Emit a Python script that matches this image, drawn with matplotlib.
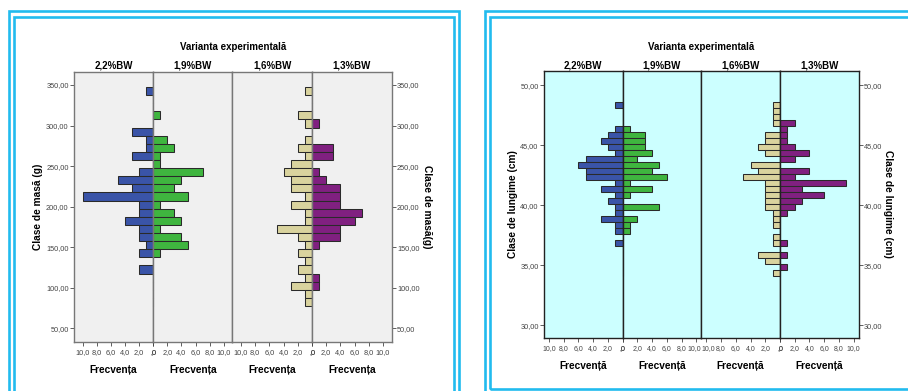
import matplotlib
matplotlib.use("Agg")
import matplotlib.pyplot as plt
import matplotlib.transforms as mtransforms
from matplotlib.patches import Rectangle

plt.rcParams['font.family'] = ['Liberation Sans', 'DejaVu Sans']

W, H = 908, 391

GROUPS = ["2,2%BW", "1,9%BW", "1,6%BW", "1,3%BW"]
COLORS = ["#3A54A8", "#3FB53F", "#D9D39E", "#802080"]

# mass classes (g), bin width 10
mass_classes = [342.5, 332.5, 322.5, 312.5, 302.5, 292.5, 282.5, 272.5, 262.5,
                252.5, 242.5, 232.5, 222.5, 212.5, 202.5, 192.5, 182.5, 172.5,
                162.5, 152.5, 142.5, 132.5, 122.5, 112.5, 102.5, 92.5, 82.5]
mass_22 = [1, 0, 0, 0, 0, 3, 1, 1, 3, 0, 2, 5, 3, 10, 2, 2, 4, 2, 2, 1, 2, 0, 2, 0, 0, 0, 0]
mass_19 = [0, 0, 0, 1, 0, 0, 2, 3, 1, 1, 7, 4, 3, 5, 1, 3, 4, 1, 4, 5, 1, 0, 0, 0, 0, 0, 0]
mass_16 = [1, 0, 0, 2, 1, 0, 1, 2, 1, 3, 4, 3, 3, 1, 3, 1, 1, 5, 2, 1, 2, 1, 2, 1, 3, 1, 1]
mass_13 = [0, 0, 0, 0, 1, 0, 0, 3, 3, 0, 1, 2, 4, 4, 4, 7, 6, 4, 4, 1, 0, 0, 0, 1, 1, 0, 0]

# length classes (cm), bin width 0.5
length_classes = [48.4, 47.9, 47.4, 46.9, 46.4, 45.9, 45.4, 44.9, 44.4, 43.9,
                  43.4, 42.9, 42.4, 41.9, 41.4, 40.9, 40.4, 39.9, 39.4, 38.9,
                  38.4, 37.9, 37.4, 36.9, 36.4, 35.9, 35.4, 34.9, 34.4]
len_22 = [1, 0, 0, 0, 1, 2, 3, 2, 1, 5, 6, 5, 5, 1, 3, 1, 2, 1, 1, 3, 1, 1, 0, 1, 0, 0, 0, 0, 0]
len_19 = [0, 0, 0, 0, 1, 3, 3, 3, 4, 2, 5, 4, 6, 1, 4, 1, 0, 5, 0, 2, 1, 1, 0, 0, 0, 0, 0, 0, 0]
len_16 = [1, 1, 1, 1, 0, 2, 2, 3, 2, 0, 4, 3, 5, 2, 2, 2, 2, 2, 1, 1, 1, 0, 1, 1, 0, 3, 2, 0, 1]
len_13 = [0, 0, 0, 2, 1, 1, 1, 2, 4, 2, 0, 4, 2, 9, 3, 6, 3, 2, 1, 0, 0, 0, 0, 1, 0, 1, 0, 1, 0]

mass_ticks = [50, 100, 150, 200, 250, 300, 350]
length_ticks = [30, 35, 40, 45, 50]
freq_ticks = [0, 2, 4, 6, 8, 10]
freq_labels = [",0", "2,0", "4,0", "6,0", "8,0", "10,0"]


def fx(px):
    return px / W


def fy(py):
    return 1 - py / H


def draw_pyramid(fig, edges, top, bottom, classes, freqs, bin_w, ylim, yticks,
                 bg, line_col, xmax, ylab_l, ylab_r, xlab, ylab_lx, ylab_rx,
                 title_y, group_y, xlab_y, xtick_size, nudge=0.0):
    axes = []
    for i in range(4):
        ax = fig.add_axes([fx(edges[i]), fy(bottom), fx(edges[i + 1] - edges[i]),
                           (bottom - top) / H])
        ax.set_facecolor(bg)
        ax.barh(classes, freqs[i], height=bin_w, left=0, color=COLORS[i],
                edgecolor="#2a2a2a", linewidth=0.75, zorder=2)
        if i % 2 == 0:
            ax.set_xlim(xmax, 0)
        else:
            ax.set_xlim(0, xmax)
        ax.set_ylim(*ylim)
        ax.set_xticks(freq_ticks)
        ax.set_xticklabels(freq_labels)
        ax.tick_params(axis="x", length=3, width=0.6, pad=2.2, labelsize=xtick_size,
                       colors="#444444", direction="out")
        # keep the two "10,0" labels at the middle divider from running into each other
        if nudge and i in (1, 2):
            dx = -nudge if i == 1 else nudge
            lab = ax.get_xticklabels()[-1]
            lab.set_transform(lab.get_transform() +
                              mtransforms.ScaledTranslation(dx / 72, 0, fig.dpi_scale_trans))
        ax.set_yticks(yticks)
        ax.set_yticklabels([f"{t:.2f}".replace(".", ",") for t in yticks])
        ax.tick_params(axis="y", length=3, width=0.6, pad=0.8, labelsize=5.3,
                       colors="#444444", direction="out")
        if i == 0:
            ax.tick_params(axis="y", left=True, labelleft=True, right=False, labelright=False)
        elif i == 3:
            ax.tick_params(axis="y", left=False, labelleft=False, right=True, labelright=True)
        else:
            ax.tick_params(axis="y", left=False, labelleft=False)
        for s in ax.spines.values():
            s.set_color(line_col)
            s.set_linewidth(1.0)
        fig.text(fx((edges[i] + edges[i + 1]) / 2), fy(group_y), GROUPS[i],
                 ha="center", va="center", fontsize=7, fontweight="bold")
        fig.text(fx((edges[i] + edges[i + 1]) / 2), fy(xlab_y), xlab,
                 ha="center", va="center", fontsize=7.3, fontweight="bold")
        axes.append(ax)
    fig.text(fx((edges[0] + edges[4]) / 2), fy(title_y), "Varianta experimentală",
             ha="center", va="center", fontsize=7, fontweight="bold")
    mid = fy((top + bottom) / 2)
    fig.text(fx(ylab_lx), mid, ylab_l, rotation=90, ha="center", va="center",
             fontsize=7.3, fontweight="bold")
    fig.text(fx(ylab_rx), mid, ylab_r, rotation=-90, ha="center", va="center",
             fontsize=7.3, fontweight="bold")
    return axes


def frame(fig, x0, y0, x1, y1):
    fig.patches.append(Rectangle((fx(x0), fy(y1)), fx(x1 - x0), (y1 - y0) / H,
                                 transform=fig.transFigure, fill=False,
                                 edgecolor="#22BBEE", linewidth=1.9, zorder=0))


def main():
    fig = plt.figure(figsize=(W / 100, H / 100), dpi=100)

    frame(fig, 8.7, 11, 458.7, 400)
    frame(fig, 14, 16.5, 453.7, 400)
    frame(fig, 484.7, 11, 920, 400)
    frame(fig, 489.7, 16.5, 915, 388.5)

    draw_pyramid(fig, [74, 153.3, 232.3, 312, 391.7], 71.7, 341.7,
                 mass_classes, [mass_22, mass_19, mass_16, mass_13], 10,
                 (33.5, 366.4), mass_ticks, "#F0F0F0", "#777777", 11.23,
                 "Clase de masă (g)", "Clase de masă(g)", "Frecvența",
                 38, 427, 46.5, 66, 370, 5.3)

    draw_pyramid(fig, [544, 622.7, 701.3, 780, 858.7], 70.7, 337.7,
                 length_classes, [len_22, len_19, len_16, len_13], 0.5,
                 (28.97, 51.22), length_ticks, "#CCFFFF", "#222222", 10.68,
                 "Clase de lungime (cm)", "Clase de lungime (cm)", "Frecvență",
                 513, 888, 46.5, 65, 366, 5.0, nudge=1.6)

    fig.savefig("out.png", dpi=100)


if __name__ == "__main__":
    main()
